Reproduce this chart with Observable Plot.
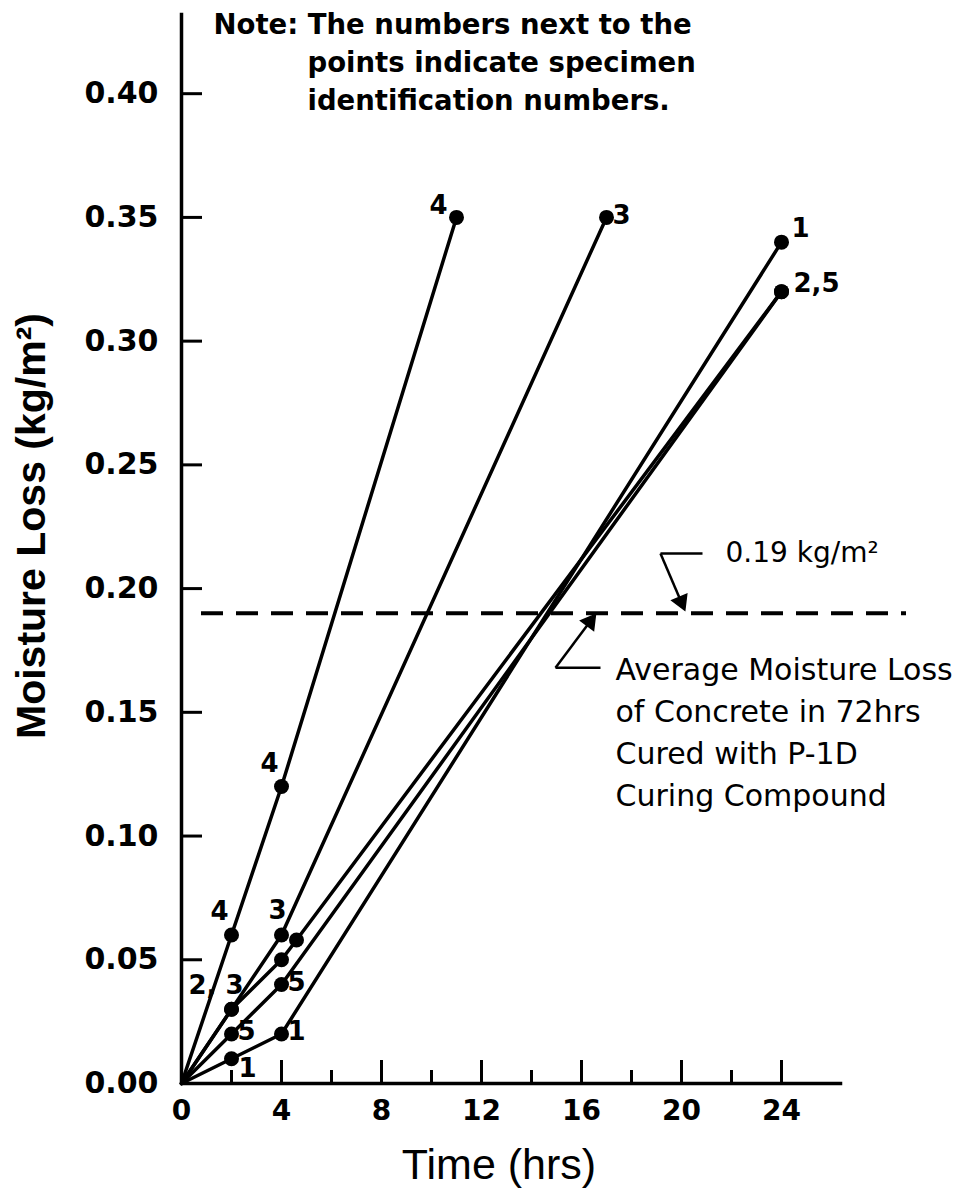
<!DOCTYPE html>
<html><head><meta charset="utf-8">
<script src="https://cdn.jsdelivr.net/npm/d3@7"></script>
<script src="https://cdn.jsdelivr.net/npm/@observablehq/plot@0.6"></script>
<style>body{margin:0;background:#fff} svg{display:block}</style>
</head><body><div id="chart"></div>
<script>
// Specimen series: time (hrs) and moisture loss (kg/m2)
const time1 = [0, 2, 4, 24];
const loss1 = [0, 0.010, 0.020, 0.340];
const time2 = [0, 2, 4, 4.6, 24];
const loss2 = [0, 0.030, 0.050, 0.058, 0.320];
const time3 = [0, 2, 4, 17];
const loss3 = [0, 0.030, 0.060, 0.350];
const time4 = [0, 2, 4, 11];
const loss4 = [0, 0.060, 0.120, 0.350];
const time5 = [0, 2, 4, 24];
const loss5 = [0, 0.020, 0.040, 0.320];
const specimenIds = ["1", "2", "3", "4", "5"];

// Specimen number labels next to points
const labelTime = [2, 4, 11, 4, 2, 2, 4, 2, 4, 17, 24, 24];
const labelLoss = [0.06, 0.12, 0.35, 0.06, 0.03, 0.02, 0.04, 0.01, 0.02, 0.35, 0.34, 0.32];
const labelText = ["4", "4", "4", "3", "2, 3", "5", "5", "1", "1", "3", "1", "2,5"];
const labelPos  = ["nw", "nw", "wnw", "n", "nend", "e", "e", "se", "e", "e", "ne", "estart"];

// Reference level
const avgLoss = 0.19;
const avgLabel = "0.19 kg/m²";
const avgNote = ["Average Moisture Loss", "of Concrete in 72hrs", "Cured with P-1D", "Curing Compound"];
const noteLine1 = "Note: The numbers next to the";
const noteRest = ["points indicate specimen", "identification numbers."];

// Callout leaders (hrs, kg/m2)
const calloutTop = {x0: 20.84, x1: 19.16, y1: 0.2142, x2: 20.08, y2: 0.1925};
const calloutBottom = {x0: 16.76, x1: 14.96, y1: 0.168, x2: 16.48, y2: 0.1885};

// Axes
const xMajor = [0, 4, 8, 12, 16, 20, 24];
const xMinor = [2, 6, 10, 14, 18, 22];
const yTicks = [0, 0.05, 0.10, 0.15, 0.20, 0.25, 0.30, 0.35, 0.40];
const xTitle = "Time (hrs)";
const yTitle = "Moisture Loss (kg/m²)";

// ---- build tables ----
const series = [time1, time2, time3, time4, time5].flatMap((ts, k) => {
  const ls = [loss1, loss2, loss3, loss4, loss5][k];
  return ts.map((t, i) => ({id: specimenIds[k], t, loss: ls[i]}));
});
const labels = labelText.map((text, i) => ({t: labelTime[i], loss: labelLoss[i], text, pos: labelPos[i]}));
const offsets = {
  nw: {dx: -12, dy: -23, a: "middle"},
  wnw: {dx: -18, dy: -12, a: "middle"},
  n: {dx: -4, dy: -24, a: "middle"},
  nend: {dx: 12, dy: -24, a: "end"},
  e: {dx: 15, dy: -2, a: "middle"},
  ne: {dx: 19, dy: -13, a: "middle"},
  se: {dx: 16, dy: 10, a: "middle"},
  estart: {dx: 12, dy: -8, a: "start"}
};
const labelMarks = Object.entries(offsets).map(([pos, o]) =>
  Plot.text(labels.filter(d => d.pos === pos), {
    x: "t", y: "loss", text: "text", dx: o.dx, dy: o.dy, textAnchor: o.a,
    fontSize: 26, fontWeight: "bold", fontFamily: "DejaVu Sans"
  })
);

// arrowheads: filled triangles aligned with leader direction
function headMark(c, xs, ys) {
  const ddx = (xs(c.x2) - xs(c.x1)), ddy = (ys(c.y2) - ys(c.y1));
  const len = Math.hypot(ddx, ddy), ux = ddx / len, uy = ddy / len;
  const ang = Math.atan2(ux, -uy) * 180 / Math.PI;
  return Plot.dot([c], {x: "x2", y: "y2", symbol: "triangle", r: 6, fill: "black", stroke: "black",
    rotate: ang, dx: -6 * ux, dy: -6 * uy});
}

const xAxisEnd = 26.45;
const yAxisTop = 0.4325;
const W = 974, H = 1189, ML = 181, MR = 68, MT = 14, MB = 106;
const xDom = [0, 29], yDom = [0, 0.432];
const xs = d3.scaleLinear(xDom, [ML, W - MR]);
const ys = d3.scaleLinear(yDom, [H - MB, MT]);

const chart = Plot.plot({
  width: W, height: H,
  marginLeft: ML, marginRight: MR, marginTop: MT, marginBottom: MB,
  x: {domain: xDom},
  y: {domain: yDom},
  style: {background: "white", color: "black", overflow: "visible"},
  marks: [
    // axis lines
    Plot.ruleX([0], {y1: 0, y2: yAxisTop, strokeWidth: 3.5}),
    Plot.ruleY([0], {x1: 0, x2: xAxisEnd, strokeWidth: 3.5}),
    Plot.axisY(yTicks, {tickSize: -21, tickPadding: 44, tickFormat: d3.format(".2f"),
      fontSize: 30, fontWeight: "bold", fontFamily: "DejaVu Sans", strokeWidth: 3, label: null}),
    Plot.axisX(xMajor, {tickSize: -23, tickPadding: 40, fontSize: 28, fontWeight: "bold", fontFamily: "DejaVu Sans",
      strokeWidth: 3, label: null}),
    Plot.axisX(xMinor, {tickSize: -13, tickFormat: () => "", strokeWidth: 3, label: null}),
    Plot.text([yTitle], {frameAnchor: "left", dx: -150, dy: -23, rotate: -90, textAnchor: "middle", lineAnchor: "middle",
      fontSize: 41, fontWeight: "bold", fontFamily: "Liberation Sans"}),
    Plot.text([xTitle], {frameAnchor: "bottom", dx: -45, dy: 82, textAnchor: "middle", lineAnchor: "middle",
      fontSize: 43, fontFamily: "Liberation Sans"}),
    // reference line
    Plot.ruleY([avgLoss], {x1: 0.8, x2: 29, strokeWidth: 4, strokeDasharray: "22,13"}),
    // data
    Plot.line(series, {x: "t", y: "loss", z: "id", strokeWidth: 3.5, stroke: "black"}),
    Plot.dot(series.filter(d => d.t > 0), {x: "t", y: "loss", r: 7.5, fill: "black"}),
    ...labelMarks,
    // callouts
    Plot.link([calloutTop], {x1: "x1", x2: "x0", y1: "y1", y2: "y1", strokeWidth: 2.5}),
    Plot.link([calloutTop], {x1: "x1", y1: "y1", x2: "x2", y2: "y2", strokeWidth: 2.5}),
    headMark(calloutTop, xs, ys),
    Plot.text([avgLabel], {x: 21.76, y: 0.2142, textAnchor: "start", fontSize: 28, fontFamily: "DejaVu Sans"}),
    Plot.link([calloutBottom], {x1: "x1", x2: "x0", y1: "y1", y2: "y1", strokeWidth: 2.5}),
    Plot.link([calloutBottom], {x1: "x1", y1: "y1", x2: "x2", y2: "y2", strokeWidth: 2.5}),
    headMark(calloutBottom, xs, ys),
    Plot.text([avgNote.join("\n")], {x: 17.36, y: 0.1429, textAnchor: "start", lineAnchor: "middle",
      lineHeight: 1.4, fontSize: 30, fontFamily: "DejaVu Sans"}),
    // note
    Plot.text([noteLine1], {frameAnchor: "top-left", dx: 32, dy: 11, textAnchor: "start", lineAnchor: "middle",
      fontSize: 27.5, fontWeight: "bold", fontFamily: "DejaVu Sans"}),
    Plot.text([noteRest.join("\n")], {frameAnchor: "top-left", dx: 126, dy: 64, textAnchor: "start",
      lineAnchor: "middle", lineHeight: 1.4, fontSize: 27.5, fontWeight: "bold", fontFamily: "DejaVu Sans"})
  ]
});
document.getElementById("chart").appendChild(chart);
</script>
</body></html>
